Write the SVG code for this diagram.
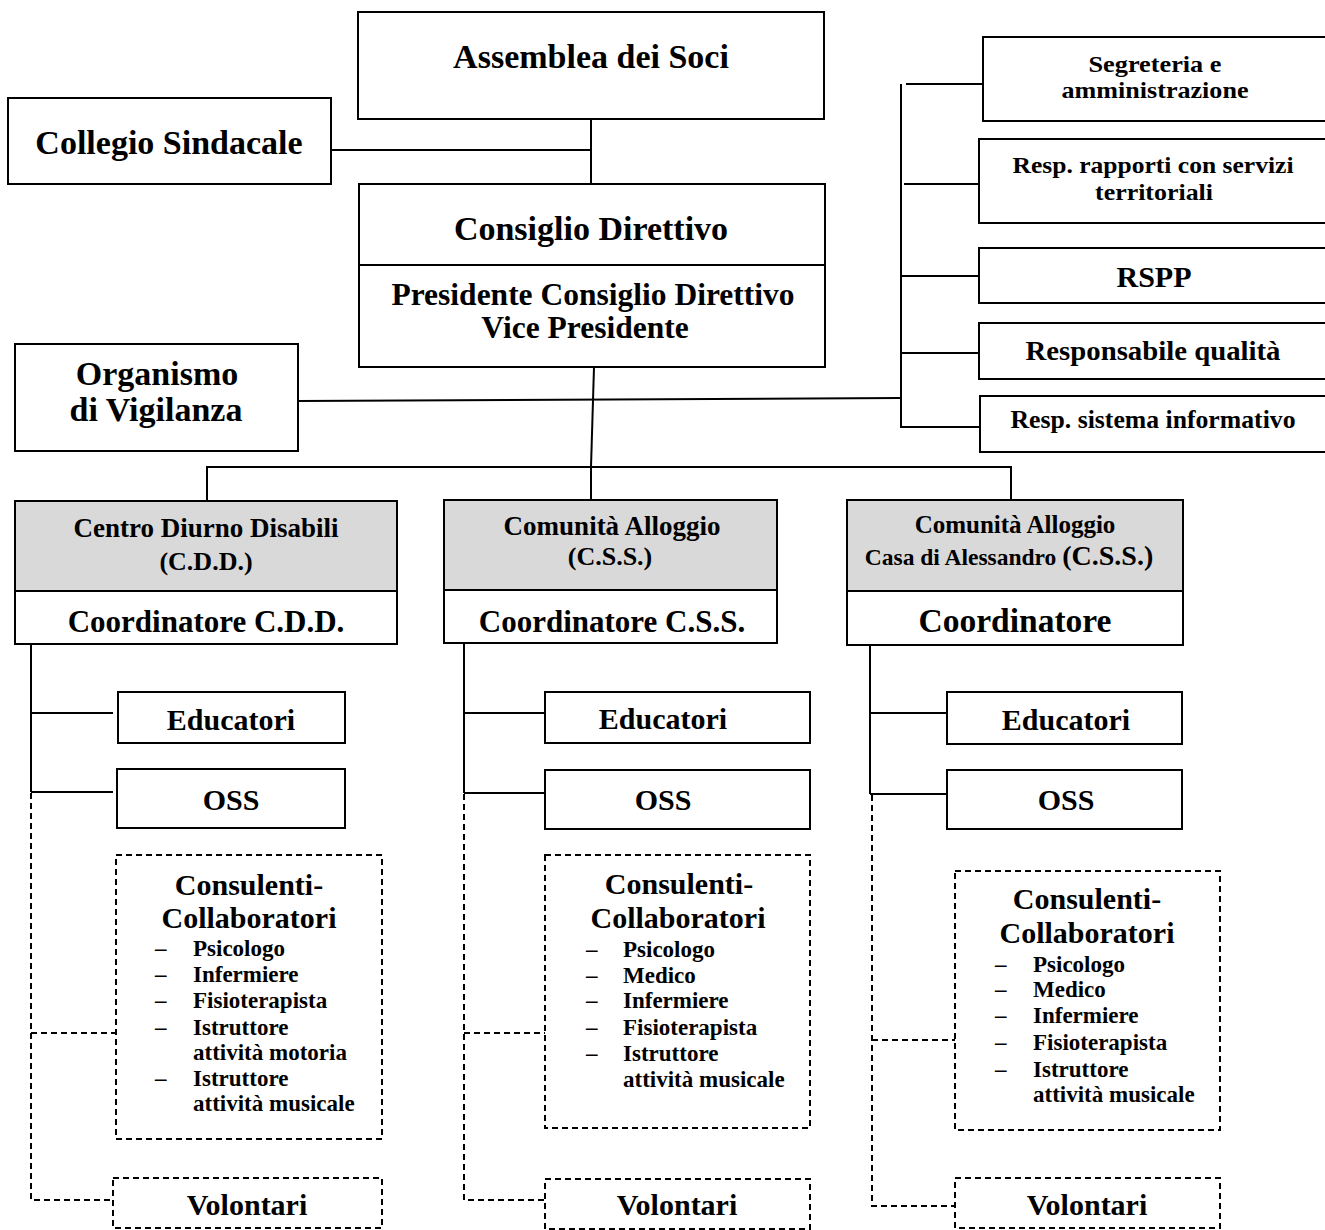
<svg xmlns="http://www.w3.org/2000/svg" width="1325" height="1230" viewBox="0 0 1325 1230">
<style>
text{font-family:"Liberation Serif","Times New Roman",serif;font-weight:bold;fill:#000}
.c{text-anchor:middle}
.t34{font-size:34px}
.t31{font-size:31px}
.t30{font-size:30px}
.t27{font-size:27px}
.t26{font-size:26px}
.t25{font-size:25px}
.t23{font-size:23px}
.li{font-size:23px}
.box{fill:#fff;stroke:#000;stroke-width:2}
.gray{fill:#d9d9d9;stroke:#000;stroke-width:2}
.dbox{fill:#fff;stroke:#000;stroke-width:2;stroke-dasharray:6 4}
.ln{fill:none;stroke:#000;stroke-width:2}
.dl{fill:none;stroke:#000;stroke-width:2;stroke-dasharray:6 4}
</style>
<rect width="1325" height="1230" fill="#fff"/>
<g id="connectors">
<path class="ln" d="M331 150 H591"/>
<path class="ln" d="M591 119 V185"/>
<path class="ln" d="M594 367 L591 467"/>
<path class="ln" d="M298 401 L901 398"/>
<path class="ln" d="M901 84 V428"/>
<path class="ln" d="M906 84 H983"/>
<path class="ln" d="M904 184 H979"/>
<path class="ln" d="M901 276 H979"/>
<path class="ln" d="M901 353 H979"/>
<path class="ln" d="M901 427 H980"/>
<path class="ln" d="M207 501 V467 H1011 V500"/>
<path class="ln" d="M591 467 V500"/>
<path class="ln" d="M31 644 V792"/>
<path class="ln" d="M31 713 H113"/>
<path class="ln" d="M31 792 H113"/>
<path class="ln" d="M464 643 V793"/>
<path class="ln" d="M464 713 H545"/>
<path class="ln" d="M464 793 H545"/>
<path class="ln" d="M870 645 V794"/>
<path class="ln" d="M870 713 H947"/>
<path class="ln" d="M870 794 H947"/>
<path class="dl" d="M31 793 V1200 H113"/>
<path class="dl" d="M31 1033 H116"/>
<path class="dl" d="M464 794 V1200 H545"/>
<path class="dl" d="M464 1033 H545"/>
<path class="dl" d="M872 795 V1206 H955"/>
<path class="dl" d="M872 1040 H955"/>
</g>
<g id="assemblea"><rect class="box" x="358" y="12" width="466" height="107"/><text class="c t34" x="591" y="68">Assemblea dei Soci</text></g>
<g id="collegio"><rect class="box" x="8" y="98" width="323" height="86"/><text class="c t34" x="169" y="154">Collegio Sindacale</text></g>
<g id="consiglio"><rect class="box" x="359" y="184" width="466" height="183"/><path class="ln" d="M359 265 H825"/><text class="c t34" x="591" y="240">Consiglio Direttivo</text><text class="c" style="font-size:31.5px" x="593" y="305">Presidente Consiglio Direttivo</text><text class="c" style="font-size:31.5px" x="585" y="338">Vice Presidente</text></g>
<g id="organismo"><rect class="box" x="15" y="344" width="283" height="107"/><text class="c t34" x="157" y="385">Organismo</text><text class="c t34" x="156" y="421">di Vigilanza</text></g>
<g id="segreteria"><rect class="box" x="983" y="37" width="350" height="84"/><text class="c t23" x="1155" y="72" textLength="133" lengthAdjust="spacingAndGlyphs">Segreteria e</text><text class="c t23" x="1155" y="98" textLength="187" lengthAdjust="spacingAndGlyphs">amministrazione</text></g>
<g id="rapporti"><rect class="box" x="979" y="139" width="354" height="84"/><text class="c t23" x="1153" y="173" textLength="281" lengthAdjust="spacingAndGlyphs">Resp. rapporti con servizi</text><text class="c t23" x="1154" y="200" textLength="118" lengthAdjust="spacingAndGlyphs">territoriali</text></g>
<g id="rspp"><rect class="box" x="979" y="248" width="354" height="55"/><text class="c" style="font-size:30px" x="1154" y="287">RSPP</text></g>
<g id="qualita"><rect class="box" x="979" y="323" width="354" height="56"/><text class="c" style="font-size:27px" x="1153" y="360" textLength="255" lengthAdjust="spacingAndGlyphs">Responsabile qualità</text></g>
<g id="sistema"><rect class="box" x="980" y="396" width="353" height="56"/><text class="c" style="font-size:25px" x="1153" y="428" textLength="285" lengthAdjust="spacingAndGlyphs">Resp. sistema informativo</text></g>
<g id="cdd"><rect class="gray" x="15" y="501" width="382" height="90"/><rect class="box" x="15" y="591" width="382" height="53"/><text class="c t27" x="206" y="537">Centro Diurno Disabili</text><text class="c t26" x="206" y="570">(C.D.D.)</text><text class="c t31" x="206" y="632">Coordinatore C.D.D.</text></g>
<g id="css"><rect class="gray" x="444" y="500" width="333" height="90"/><rect class="box" x="444" y="590" width="333" height="53"/><text class="c t27" x="612" y="535">Comunità Alloggio</text><text class="c t26" x="610" y="565">(C.S.S.)</text><text class="c t31" x="612" y="632">Coordinatore C.S.S.</text></g>
<g id="casa"><rect class="gray" x="847" y="500" width="336" height="91"/><rect class="box" x="847" y="591" width="336" height="54"/><text class="c t25" x="1015" y="533">Comunità Alloggio</text><text class="c" x="1009" y="565"><tspan style="font-size:23.5px">Casa di Alessandro </tspan><tspan style="font-size:28px">(C.S.S.)</tspan></text><text class="c" style="font-size:33.5px" x="1015" y="632">Coordinatore</text></g>
<g id="educatori-cdd"><rect class="box" x="118" y="692" width="227" height="51"/><text class="c t30" x="231" y="730">Educatori</text></g>
<g id="oss-cdd"><rect class="box" x="117" y="769" width="228" height="59"/><text class="c t30" x="231" y="810">OSS</text></g>
<g id="educatori-css"><rect class="box" x="545" y="692" width="265" height="51"/><text class="c t30" x="663" y="729">Educatori</text></g>
<g id="oss-css"><rect class="box" x="545" y="770" width="265" height="59"/><text class="c t30" x="663" y="810">OSS</text></g>
<g id="educatori-casa"><rect class="box" x="947" y="692" width="235" height="52"/><text class="c t30" x="1066" y="730">Educatori</text></g>
<g id="oss-casa"><rect class="box" x="947" y="770" width="235" height="59"/><text class="c t30" x="1066" y="810">OSS</text></g>
<g id="consulenti-cdd"><rect class="dbox" x="116" y="855" width="266" height="284"/><text class="c t30" x="249" y="895">Consulenti-</text><text class="c t30" x="249" y="928">Collaboratori</text>
<text class="li" x="155" y="956">–</text><text class="li" x="193" y="956">Psicologo</text><text class="li" x="155" y="982">–</text><text class="li" x="193" y="982">Infermiere</text><text class="li" x="155" y="1008">–</text><text class="li" x="193" y="1008">Fisioterapista</text><text class="li" x="155" y="1035">–</text><text class="li" x="193" y="1035">Istruttore</text><text class="li" x="193" y="1060">attività motoria</text><text class="li" x="155" y="1086">–</text><text class="li" x="193" y="1086">Istruttore</text><text class="li" x="193" y="1111">attività musicale</text></g>
<g id="consulenti-css"><rect class="dbox" x="545" y="855" width="265" height="273"/><text class="c t30" x="679" y="894">Consulenti-</text><text class="c t30" x="678" y="928">Collaboratori</text>
<text class="li" x="586" y="957">–</text><text class="li" x="623" y="957">Psicologo</text><text class="li" x="586" y="983">–</text><text class="li" x="623" y="983">Medico</text><text class="li" x="586" y="1008">–</text><text class="li" x="623" y="1008">Infermiere</text><text class="li" x="586" y="1035">–</text><text class="li" x="623" y="1035">Fisioterapista</text><text class="li" x="586" y="1061">–</text><text class="li" x="623" y="1061">Istruttore</text><text class="li" x="623" y="1087">attività musicale</text></g>
<g id="consulenti-casa"><rect class="dbox" x="955" y="871" width="265" height="259"/><text class="c t30" x="1087" y="909">Consulenti-</text><text class="c t30" x="1087" y="943">Collaboratori</text>
<text class="li" x="995" y="972">–</text><text class="li" x="1033" y="972">Psicologo</text><text class="li" x="995" y="997">–</text><text class="li" x="1033" y="997">Medico</text><text class="li" x="995" y="1023">–</text><text class="li" x="1033" y="1023">Infermiere</text><text class="li" x="995" y="1050">–</text><text class="li" x="1033" y="1050">Fisioterapista</text><text class="li" x="995" y="1077">–</text><text class="li" x="1033" y="1077">Istruttore</text><text class="li" x="1033" y="1102">attività musicale</text></g>
<g id="volontari-cdd"><rect class="dbox" x="113" y="1178" width="269" height="50"/><text class="c t30" x="247" y="1215">Volontari</text></g>
<g id="volontari-css"><rect class="dbox" x="545" y="1179" width="265" height="50"/><text class="c t30" x="677" y="1215">Volontari</text></g>
<g id="volontari-casa"><rect class="dbox" x="955" y="1178" width="265" height="50"/><text class="c t30" x="1087" y="1215">Volontari</text></g>
</svg>
